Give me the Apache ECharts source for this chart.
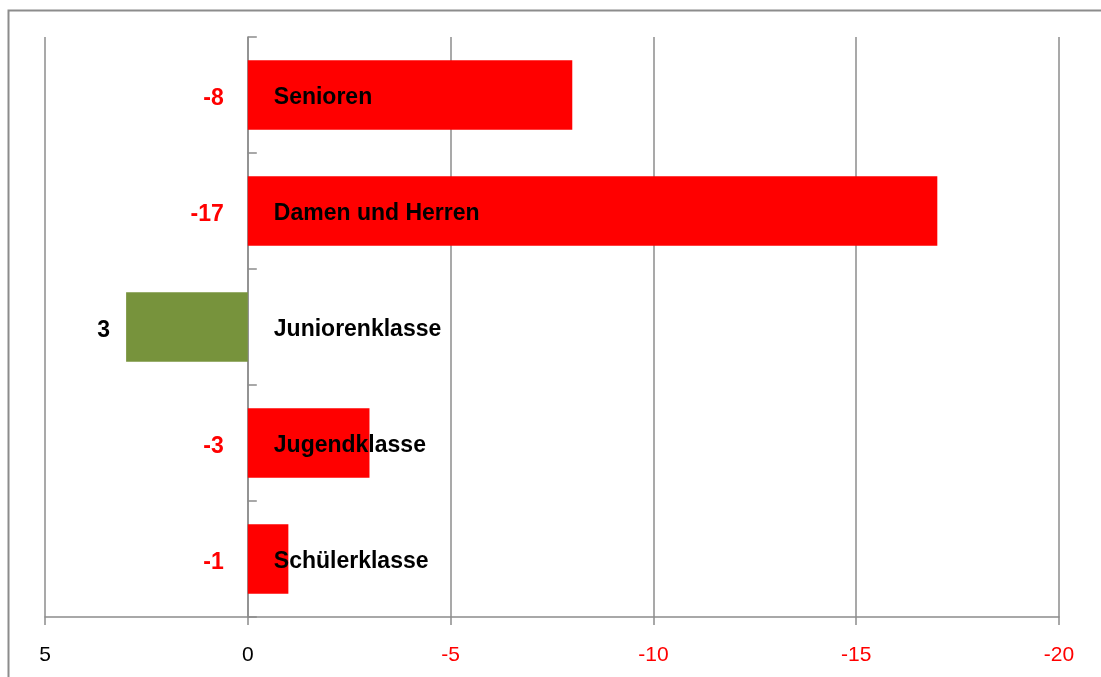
<!DOCTYPE html>
<html>
<head>
<meta charset="utf-8">
<script src="https://cdn.jsdelivr.net/npm/echarts@6/dist/echarts.min.js"></script>
<style>html,body{margin:0;padding:0;background:#fff;}#c{width:1101px;height:677px;}</style>
</head>
<body>
<div id="c"></div>
<script>
var categories = ['Senioren', 'Damen und Herren', 'Juniorenklasse', 'Jugendklasse', 'Schülerklasse'];
var values = [-8, -17, 3, -3, -1];
var xTicks = { min: -20, max: 5, interval: 5 };

var RED = '#ff0000', GREEN = '#77933c', GRAY = '#8c8c8c';
var FONT = '"Liberation Sans", Arial, sans-serif';

var chart = echarts.init(document.getElementById('c'));
chart.setOption({
  animation: false,
  backgroundColor: '#fff',
  graphic: [{
    type: 'rect', left: 6, top: 8, silent: true,
    shape: { width: 1200, height: 800 },
    style: { fill: 'none', stroke: '#8c8c8c', lineWidth: 2 }
  }],
  grid: { left: 45, right: 42, top: 37, bottom: 60, containLabel: false },
  xAxis: {
    type: 'value', inverse: true,
    min: xTicks.min, max: xTicks.max, interval: xTicks.interval,
    axisLine: { show: true, onZero: false, lineStyle: { color: GRAY, width: 1.5 } },
    axisTick: { show: true, length: 8, lineStyle: { color: GRAY, width: 1.5 } },
    splitLine: { show: true, lineStyle: { color: GRAY, width: 1.5 } },
    axisLabel: {
      margin: 28, fontSize: 21, fontFamily: FONT,
      color: function (v) { return Number(v) < 0 ? RED : '#000'; }
    }
  },
  yAxis: {
    type: 'category', inverse: true, data: categories,
    axisLine: { show: true, onZero: true, lineStyle: { color: GRAY, width: 1.5 } },
    axisTick: { show: true, inside: true, length: 9, lineStyle: { color: GRAY, width: 1.5 } },
    splitLine: { show: false },
    axisLabel: { show: false }
  },
  series: [{
    type: 'bar',
    barCategoryGap: '40%',
    data: values.map(function (v) {
      return {
        value: v,
        itemStyle: { color: v < 0 ? RED : GREEN },
        label: { color: v < 0 ? RED : '#000', distance: v < 0 ? 24 : 16 }
      };
    }),
    label: {
      show: true, position: 'left', fontSize: 23, fontWeight: 'bold',
      fontFamily: FONT, formatter: '{c}', offset: [0, 4]
    }
  }, {
    type: 'scatter',
    symbolSize: 0,
    z: 5,
    silent: true,
    itemStyle: { opacity: 1 },
    data: categories.map(function (c) { return { name: c, value: [0, c] }; }),
    label: {
      show: true, position: 'right', distance: 26, fontSize: 23, fontWeight: 'bold',
      fontFamily: FONT, color: '#000', opacity: 1, formatter: '{b}', offset: [0, 3]
    }
  }]
});
</script>
</body>
</html>
